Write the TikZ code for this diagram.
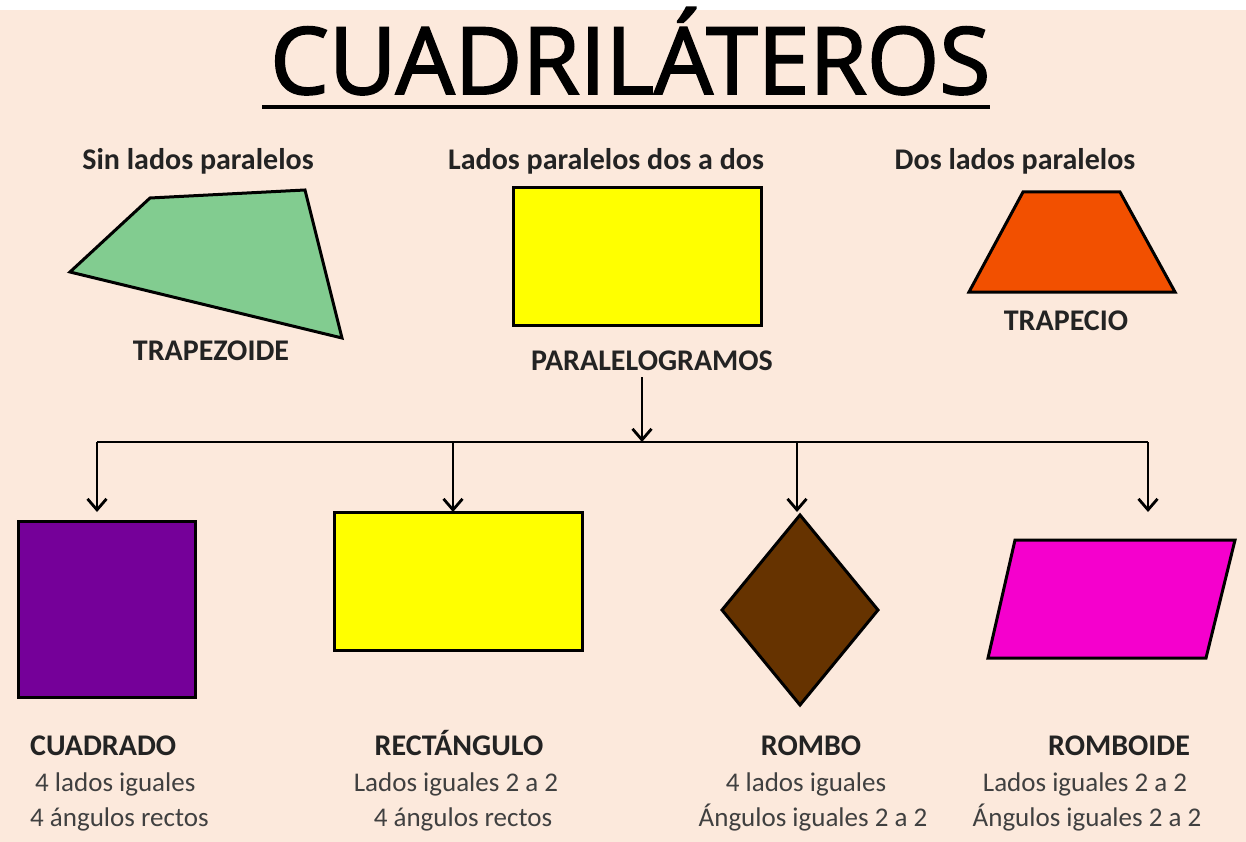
\documentclass[tikz,border=0pt]{standalone}
\usepackage{graphicx}
\usepackage{fontspec}
\setmainfont{Carlito}
\newfontfamily\titlefont[FakeBold=2]{Open Sans}
\usetikzlibrary{arrows.meta,shapes.geometric,positioning}
\definecolor{fondo}{RGB}{252,233,220}
\definecolor{verde}{RGB}{130,204,144}
\definecolor{amarillo}{RGB}{255,255,0}
\definecolor{naranja}{RGB}{242,80,0}
\definecolor{morado}{RGB}{117,0,153}
\definecolor{marron}{RGB}{102,51,0}
\definecolor{magenta2}{RGB}{245,0,205}
\definecolor{tinta}{RGB}{35,35,35}
\definecolor{gris}{RGB}{64,64,64}
\tikzset{
	figura/.style={
		draw=black,
		line width=3pt,
		inner sep=0pt,
		outer sep=0pt
	},
	nombre/.style={
		font=\bfseries\fontsize{30}{30}\selectfont,
		text=tinta,
		inner sep=0pt,
		anchor=base
	},
	nota/.style={
		font=\fontsize{27}{27}\selectfont,
		text=gris,
		inner sep=0pt,
		anchor=base
	},
	flecha/.style={
		draw=black,
		line width=2.8pt,
		-{Straight Barb[length=11pt,width=19pt]}
	},
}

\begin{document}
\begin{tikzpicture}[x=1pt,y=-1pt]
	\useasboundingbox (0,0) rectangle (1246,842);
	\fill[white] (0,0) rectangle (1246,842);
	\fill[fondo] (0,10) rectangle (1246,842);

	% titulo
	\node[inner sep=0pt,anchor=base west] (titulo) at (270,94)
		{\resizebox{720pt}{!}{\titlefont CUADRILÁTEROS}};
	\draw[line width=3.5pt] (262,107) -- (990,107);

	% fila de arriba
	\node[nombre] (sinlados) at (198,170) {Sin lados paralelos};
	\node[nombre] (dosados) at (606,170) {Lados paralelos dos a dos};
	\node[nombre] (doslados) at (1015,170) {Dos lados paralelos};

	\draw[figura,fill=verde] (70,272) -- (150,198) -- (305,190) -- (342,338) -- cycle;
	\node[figura,fill=amarillo,minimum width=248pt,minimum height=137pt] (para) at (637,256.5) {};
	\draw[figura,fill=naranja] (969,292) -- (1023,192) -- (1120,192) -- (1175,292) -- cycle;

	\node[nombre] (ltrapezoide) at (211,360) {TRAPEZOIDE};
	\node[nombre] (lpara) at (652,370) {PARALELOGRAMOS};
	\node[nombre] (ltrapecio) at (1066,330) {TRAPECIO};

	% reparto
	\coordinate (sale) at (642,377);
	\coordinate (llega) at (642,442);
	\coordinate (b1) at (97,442);
	\coordinate (b2) at (453,442);
	\coordinate (b3) at (797,442);
	\coordinate (b4) at (1148,442);
	\coordinate (p1) at (97,512);
	\coordinate (p2) at (453,512);
	\coordinate (p3) at (797,512);
	\coordinate (p4) at (1148,512);
	\draw[flecha] (sale) -- (llega);
	\draw[line width=2.8pt] (b1) -- (b4);
	\foreach \i in {1,...,4}
		\draw[flecha] (b\i) -- (p\i);

	% fila de abajo
	\node[figura,fill=morado,minimum width=177pt,minimum height=176pt] (cuad) at (106.5,609) {};
	\node[figura,fill=amarillo,minimum width=248pt,minimum height=138pt] (rect) at (458,581) {};
	\node[figura,fill=marron,diamond,minimum width=156pt,minimum height=190pt] (rombo) at (800,610) {};
	\draw[figura,fill=magenta2] (988,658) -- (1015,540) -- (1235,540) -- (1206,658) -- cycle;

	\node[nombre,anchor=base west] (lcuad) at (30,755) {CUADRADO};
	\node[nombre] (lrect) at (459,755) {RECTÁNGULO};
	\node[nombre] (lrombo) at (811,755) {ROMBO};
	\node[nombre] (lromboide) at (1119,755) {ROMBOIDE};

	\node[nota,anchor=base west] (c1) at (35,791) {4 lados iguales};
	\node[nota,anchor=base west] (c2) at (30,826) {4 ángulos rectos};
	\node[nota] (r1) at (456,791) {Lados iguales 2 a 2};
	\node[nota] (r2) at (463,826) {4 ángulos rectos};
	\node[nota] (m1) at (806,791) {4 lados iguales};
	\node[nota] (m2) at (813,826) {Ángulos iguales 2 a 2};
	\node[nota] (d1) at (1085,791) {Lados iguales 2 a 2};
	\node[nota] (d2) at (1087,826) {Ángulos iguales 2 a 2};
\end{tikzpicture}
\end{document}
